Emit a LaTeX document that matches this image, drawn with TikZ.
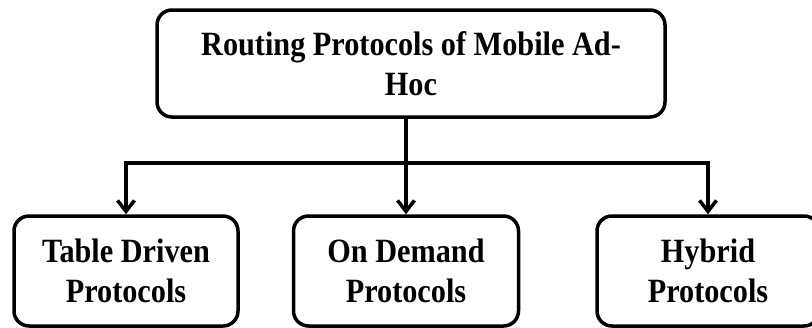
\documentclass[tikz,border=0pt]{standalone}
\usepackage{fontspec}
\newfontfamily\labfont{Liberation Serif}[FakeStretch=0.89]
\usetikzlibrary{arrows.meta}
\tikzset{
  box/.style={draw=black, line width=3.5pt, rounded corners=15pt, fill=white,
    align=center, inner sep=0pt,
    font=\labfont\bfseries\fontsize{34}{40}\selectfont},
  conn/.style={draw=black, line width=3.5pt},
  arr/.style={conn, -{Straight Barb[length=11pt,width=17pt]}}
}
\begin{document}
\begin{tikzpicture}[x=1pt,y=-1pt]
\useasboundingbox (0,0) rectangle (812,327);
\clip (0,0) rectangle (812,327);
\fill[white] (0,0) rectangle (812,327);
\node[box, minimum width=508pt, minimum height=107pt] (top) at (411,63.5) {Routing Protocols of Mobile Ad-\\Hoc};
\node[box, minimum width=224pt, minimum height=110pt] (left) at (126,271) {Table Driven\\Protocols};
\node[box, minimum width=225pt, minimum height=110pt] (mid) at (406,271) {On Demand\\Protocols};
\node[box, minimum width=222pt, minimum height=110pt] (right) at (708,271) {Hybrid\\Protocols};
\coordinate (j) at (406,163);
\draw[conn] (top.south -| j) -- (j);
\draw[arr] (j) -- (mid.north);
\draw[arr] (j) -| (left.north);
\draw[arr] (j) -| (right.north);
\end{tikzpicture}
\end{document}
